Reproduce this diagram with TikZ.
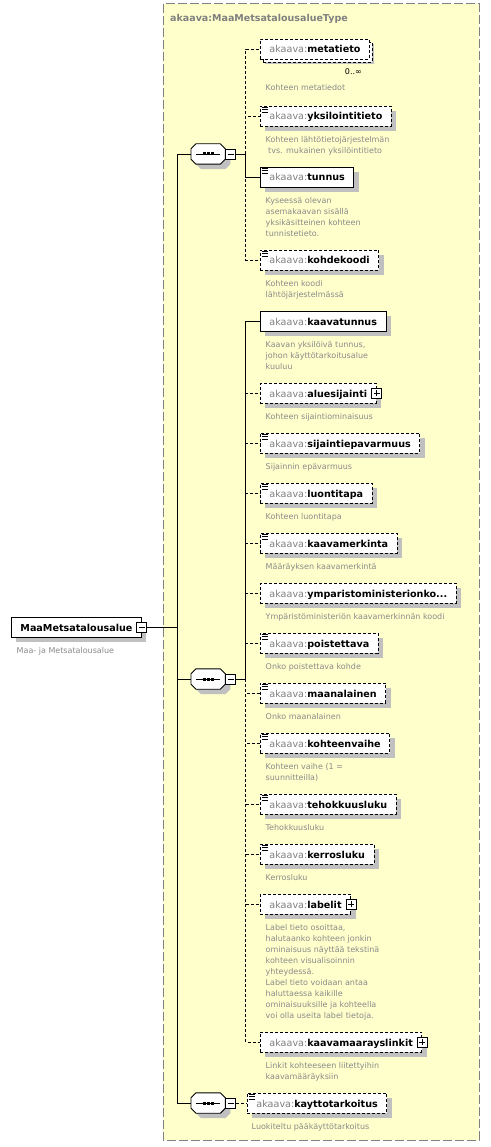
\documentclass[tikz,border=0pt]{standalone}
\usepackage{fontspec}
\setmainfont{DejaVu Sans}
\usetikzlibrary{positioning,shadows}

\definecolor{typefill}{HTML}{FFFFCC}
\definecolor{typeline}{HTML}{808080}
\definecolor{nsgray}{HTML}{808080}
\definecolor{descgray}{HTML}{8A8A8A}
\definecolor{shadowgray}{HTML}{C0C0C0}

\newcommand{\ename}[1]{{\color{nsgray}akaava:}\textbf{#1}}
\newcommand{\octpath}[1]{([xshift=5pt]#1.north west) -- ([xshift=-5pt]#1.north east)
  -- ([yshift=-5pt]#1.north east) -- ([yshift=5pt]#1.south east)
  -- ([xshift=-5pt]#1.south east) -- ([xshift=5pt]#1.south west)
  -- ([yshift=5pt]#1.south west) -- ([yshift=-5pt]#1.north west) -- cycle}

\tikzset{
  elem/.style={draw, fill=white, line width=0.9pt, anchor=west,
    minimum height=20pt, inner xsep=9pt, inner ysep=0pt,
    text height=9pt, text depth=1pt, font=\fontsize{9.6}{11}\selectfont,
    drop shadow={shadow xshift=5pt, shadow yshift=-5pt, fill=shadowgray, opacity=1}},
  optional/.style={dash pattern=on 3pt off 2pt},
  desc/.style={anchor=north west, inner sep=0pt, align=left, text=descgray,
    font=\fontsize{8}{11}\selectfont},
  conn/.style={line width=0.9pt},
  optconn/.style={line width=0.9pt, dash pattern=on 3pt off 2pt},
  seqnode/.style={anchor=west, minimum width=34pt, minimum height=20pt, inner sep=0pt},
  minusbox/.style={draw, fill=white, line width=0.9pt, minimum size=10pt, inner sep=0pt,
    path picture={\draw[line width=0.9pt] ([xshift=2pt]path picture bounding box.west)
      -- ([xshift=-2pt]path picture bounding box.east);}},
  plusbox/.style={draw, fill=white, line width=0.9pt, minimum size=10pt, inner sep=0pt,
    path picture={\draw[line width=0.9pt] ([xshift=2pt]path picture bounding box.west)
      -- ([xshift=-2pt]path picture bounding box.east);
      \draw[line width=0.9pt] ([yshift=-2pt]path picture bounding box.north)
      -- ([yshift=2pt]path picture bounding box.south);}}
}

\begin{document}
\begin{tikzpicture}[x=1pt, y=-1pt]
\useasboundingbox (0,0) rectangle (490,1147);

% complex type
\draw[fill=typefill, draw=typeline, line width=1pt, dash pattern=on 9pt off 3pt] (163,4) rectangle (479,1140);
\node[anchor=base west, inner sep=0pt, text=nsgray, font=\fontsize{9.5}{11}\selectfont\bfseries] (typetitle) at (170,21.5) {akaava:MaaMetsatalousalueType};

% root element
\node[elem, font=\fontsize{9.6}{11}\selectfont\bfseries] (root) at (11,627) {MaaMetsatalousalue\hspace{3pt}};
\node[desc] (root-d) at ([shift={(5.5,18.3)}]root.west) {\strut Maa- ja Metsatalousalue};

% sequences
\node[seqnode] (seq1) at (191,154) {};
\node[seqnode] (seq2) at (191,679) {};
\node[seqnode] (seq3) at (191,1103) {};
\foreach \s in {seq1,seq2,seq3} {
  \fill[shadowgray, transform canvas={shift={(5pt,-5pt)}}] \octpath{\s};
  \draw[conn, fill=white] \octpath{\s};
  \draw[conn] ([xshift=-12pt]\s.center) -- ([xshift=12pt]\s.center);
  \foreach \d in {-4,0,4}
    \fill ([xshift=\d pt]\s.center) +(-1.5,-1.5) rectangle +(1.5,1.5);
}
\node[minusbox, right=0pt of seq1] (seq1m) {};
\node[minusbox, right=0pt of seq2] (seq2m) {};
\node[minusbox, right=0pt of seq3] (seq3m) {};

% first sequence
\node[elem, optional, copy shadow={shadow xshift=3pt, shadow yshift=-3pt, draw=black, fill=white}] (metatieto) at (260,49) {\ename{metatieto}};
\node[anchor=base east, inner sep=0pt, font=\fontsize{8}{11}\selectfont] (metatieto-o) at (362,75) {0..∞};
\node[desc] (metatieto-d) at ([shift={(5.5,33.3)}]metatieto.west) {\strut Kohteen metatiedot};

\node[elem, optional] (yksilointitieto) at (260,116) {\ename{yksilointitieto}};
\node[desc] (yksilointitieto-d) at ([shift={(5.5,18.3)}]yksilointitieto.west) {\strut Kohteen lähtötietojärjestelmän\\\hspace*{2.5pt}tvs. mukainen yksilöintitieto};

\node[elem] (tunnus) at (260,177) {\ename{tunnus}};
\node[desc] (tunnus-d) at ([shift={(5.5,18.3)}]tunnus.west) {\strut Kyseessä olevan\\asemakaavan sisällä\\yksikäsitteinen kohteen\\tunnistetieto.};

\node[elem, optional] (kohdekoodi) at (260,260) {\ename{kohdekoodi}};
\node[desc] (kohdekoodi-d) at ([shift={(5.5,18.3)}]kohdekoodi.west) {\strut Kohteen koodi\\lähtöjärjestelmässä};

% second sequence
\node[elem] (kaavatunnus) at (260,321) {\ename{kaavatunnus}};
\node[desc] (kaavatunnus-d) at ([shift={(5.5,18.3)}]kaavatunnus.west) {\strut Kaavan yksilöivä tunnus,\\johon käyttötarkoitusalue\\kuuluu};

\node[elem, optional] (aluesijainti) at (260,393) {\ename{aluesijainti}\hspace{3pt}};
\node[desc] (aluesijainti-d) at ([shift={(5.5,18.3)}]aluesijainti.west) {\strut Kohteen sijaintiominaisuus};

\node[elem, optional] (sijaintiepavarmuus) at (260,443) {\ename{sijaintiepavarmuus}};
\node[desc] (sijaintiepavarmuus-d) at ([shift={(5.5,18.3)}]sijaintiepavarmuus.west) {\strut Sijainnin epävarmuus};

\node[elem, optional] (luontitapa) at (260,493) {\ename{luontitapa}};
\node[desc] (luontitapa-d) at ([shift={(5.5,18.3)}]luontitapa.west) {\strut Kohteen luontitapa};

\node[elem, optional] (kaavamerkinta) at (260,543) {\ename{kaavamerkinta}};
\node[desc] (kaavamerkinta-d) at ([shift={(5.5,18.3)}]kaavamerkinta.west) {\strut Määräyksen kaavamerkintä};

\node[elem, optional] (ymparisto) at (260,593) {\ename{ymparistoministerionko...}};
\node[desc] (ymparisto-d) at ([shift={(5.5,18.3)}]ymparisto.west) {\strut Ympäristöministeriön kaavamerkinnän koodi};

\node[elem, optional] (poistettava) at (260,643) {\ename{poistettava}};
\node[desc] (poistettava-d) at ([shift={(5.5,18.3)}]poistettava.west) {\strut Onko poistettava kohde};

\node[elem, optional] (maanalainen) at (260,693) {\ename{maanalainen}};
\node[desc] (maanalainen-d) at ([shift={(5.5,18.3)}]maanalainen.west) {\strut Onko maanalainen};

\node[elem, optional] (kohteenvaihe) at (260,743) {\ename{kohteenvaihe}};
\node[desc] (kohteenvaihe-d) at ([shift={(5.5,18.3)}]kohteenvaihe.west) {\strut Kohteen vaihe (1 =\\suunnitteilla)};

\node[elem, optional] (tehokkuusluku) at (260,804) {\ename{tehokkuusluku}};
\node[desc] (tehokkuusluku-d) at ([shift={(5.5,18.3)}]tehokkuusluku.west) {\strut Tehokkuusluku};

\node[elem, optional] (kerrosluku) at (260,854) {\ename{kerrosluku}};
\node[desc] (kerrosluku-d) at ([shift={(5.5,18.3)}]kerrosluku.west) {\strut Kerrosluku};

\node[elem, optional] (labelit) at (260,904) {\ename{labelit}\hspace{3pt}};
\node[desc] (labelit-d) at ([shift={(5.5,18.3)}]labelit.west) {\strut Label tieto osoittaa,\\halutaanko kohteen jonkin\\ominaisuus näyttää tekstinä\\kohteen visualisoinnin\\yhteydessä.\\Label tieto voidaan antaa\\haluttaessa kaikille\\ominaisuuksille ja kohteella\\voi olla useita label tietoja.};

\node[elem, optional] (kaavamaarayslinkit) at (260,1042) {\ename{kaavamaarayslinkit}\hspace{3pt}};
\node[desc] (kaavamaarayslinkit-d) at ([shift={(5.5,18.3)}]kaavamaarayslinkit.west) {\strut Linkit kohteeseen liitettyihin\\kaavamääräyksiin};

% third sequence
\node[elem, optional] (kayttotarkoitus) at (247,1103) {\ename{kayttotarkoitus}};
\node[desc] (kayttotarkoitus-d) at ([shift={(4.5,18.3)}]kayttotarkoitus.west) {\strut Luokiteltu pääkäyttötarkoitus};

% simple content marks
\foreach \e in {yksilointitieto,tunnus,kohdekoodi,sijaintiepavarmuus,luontitapa,kaavamerkinta,
  poistettava,maanalainen,kohteenvaihe,tehokkuusluku,kerrosluku,kayttotarkoitus}
  \foreach \k in {2,4.3,6.6}
    \draw[line width=0.8pt] ([shift={(2,\k)}]\e.north west) -- +(5.5,0);

% expand boxes
\node[minusbox] (rootm) at (root.east) {};
\node[plusbox] (aluesijaintip) at (aluesijainti.east) {};
\node[plusbox] (labelitp) at (labelit.east) {};
\node[plusbox] (kaavamaarayslinkitp) at (kaavamaarayslinkit.east) {};

% connectors
\coordinate (trunk) at (177,627);
\draw[conn] (rootm.east) -- (trunk);
\draw[conn] (trunk) |- (seq1.west);
\draw[conn] (trunk) |- (seq2.west);
\draw[conn] (trunk) |- (seq3.west);

\coordinate (fork1) at ([xshift=9.5pt]seq1m.east);
\draw[conn] (seq1m.east) -- (fork1);
\draw[optconn] (fork1) |- (metatieto.west);
\draw[optconn] (fork1) |- (yksilointitieto.west);
\draw[optconn] (fork1) |- (kohdekoodi.west);
\draw[conn] (fork1) |- (tunnus.west);

\coordinate (fork2) at ([xshift=9.5pt]seq2m.east);
\draw[conn] (seq2m.east) -- (fork2);
\draw[conn] (fork2) |- (kaavatunnus.west);
\foreach \e in {aluesijainti,sijaintiepavarmuus,luontitapa,kaavamerkinta,ymparisto,poistettava,
  maanalainen,kohteenvaihe,tehokkuusluku,kerrosluku,labelit,kaavamaarayslinkit}
  \draw[optconn] (fork2) |- (\e.west);

\draw[optconn] (seq3m.east) -- (kayttotarkoitus.west);

\end{tikzpicture}
\end{document}
